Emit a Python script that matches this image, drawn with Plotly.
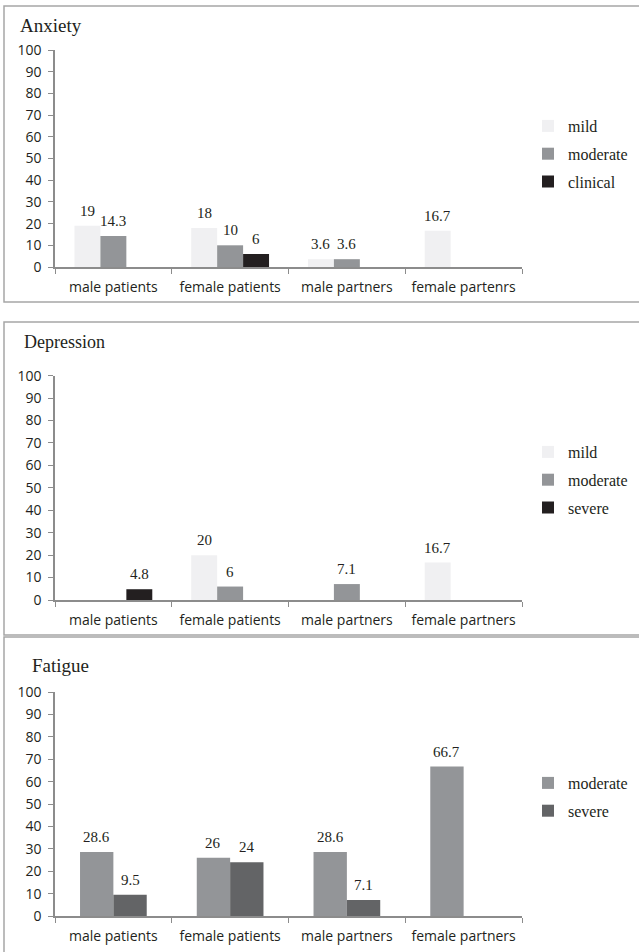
import plotly.graph_objects as go

# ---------------- data ----------------
cats_anx = ["male patients", "female patients", "male partners", "female partenrs"]
cats_dep = ["male patients", "female patients", "male partners", "female partners"]
cats_fat = ["male patients", "female patients", "male partners", "female partners"]

anx_mild = [19, 18, 3.6, 16.7]
anx_moderate = [14.3, 10, 3.6, None]
anx_clinical = [None, 6, None, None]

dep_mild = [None, 20, None, 16.7]
dep_moderate = [None, 6, 7.1, None]
dep_severe = [4.8, None, None, None]

fat_moderate = [28.6, 26, 28.6, 66.7]
fat_severe = [9.5, 24, 7.1, None]

titles = ["Anxiety", "Depression", "Fatigue"]

# ---------------- styling ----------------
W, H = 639, 952
C_MILD = "#F0F0F2"
C_MOD = "#939598"
C_BLACK = "#231F20"
C_SEV2 = "#636466"
AXIS = "#8C8C8C"
SERIF = "Liberation Serif"
SANS = "Open Sans"
X0, X1 = 55, 522


def px_x(p):
    return p / W


def px_y(p):
    return 1 - p / H


fig = go.Figure()

panels = [
    dict(cats=cats_anx, series=[("mild", anx_mild, C_MILD), ("moderate", anx_moderate, C_MOD), ("clinical", anx_clinical, C_BLACK)],
         ytop=50, ybot=267, legend="legend", leg_y=109, title_y=25, title_x=18, title_size=19),
    dict(cats=cats_dep, series=[("mild", dep_mild, C_MILD), ("moderate", dep_moderate, C_MOD), ("severe", dep_severe, C_BLACK)],
         ytop=375.7, ybot=600, legend="legend2", leg_y=435, title_y=342, title_x=22, title_size=18),
    dict(cats=cats_fat, series=[("moderate", fat_moderate, C_MOD), ("severe", fat_severe, C_SEV2)],
         ytop=692, ybot=916, legend="legend3", leg_y=766, title_y=665, title_x=30, title_size=19),
]

layout_updates = {}
annotations = []
cat_px = (X1 - X0) / 4.0
for i, p in enumerate(panels):
    idx = "" if i == 0 else str(i + 1)
    xa, ya = "x" + idx, "y" + idx
    n = len(p["series"])
    gap = 1.5 / (n + 1.5)          # Excel-style 150% gap width
    bw = (1 - gap) / n
    for j, (name, vals, col) in enumerate(p["series"]):
        off = -(1 - gap) / 2 + j * bw
        fig.add_trace(go.Bar(
            x=p["cats"], y=vals, name=name, xaxis=xa, yaxis=ya,
            width=bw, offset=off,
            marker=dict(color=col, line=dict(width=0)),
            legend=p["legend"], legendgroup=f"{i}-{name}",
            showlegend=True, hoverinfo="x+y+name",
        ))
        # value labels above bars, anchored in data coordinates
        for c, v in zip(p["cats"], vals):
            if v is None:
                continue
            annotations.append(dict(
                x=c, y=v, xref=xa, yref=ya, text=f"{v:g}", showarrow=False,
                xanchor="center", yanchor="bottom",
                xshift=(off + bw / 2) * cat_px, yshift=5,
                font=dict(family=SERIF, size=15, color="#231F20"),
            ))
    layout_updates["xaxis" + idx] = dict(
        domain=[px_x(X0), px_x(X1)], anchor=ya, automargin=False,
        showline=True, linecolor=AXIS, linewidth=1.5,
        ticks="outside", tickson="boundaries", ticklen=5, tickcolor=AXIS,
        tickfont=dict(family=SANS, size=14, color="#231F20"),
        ticklabelstandoff=6, showgrid=False, zeroline=False,
        categoryorder="array", categoryarray=p["cats"], range=[-0.5, 3.5],
    )
    layout_updates["yaxis" + idx] = dict(
        domain=[px_y(p["ybot"]), px_y(p["ytop"])], anchor=xa, automargin=False,
        range=[0, 100], dtick=10, tick0=0,
        showline=True, linecolor=AXIS, linewidth=1.5,
        ticks="outside", ticklen=5, tickcolor=AXIS,
        tickfont=dict(family=SANS, size=14, color="#231F20"),
        ticklabelstandoff=4, showgrid=False, zeroline=False,
    )
    layout_updates[p["legend"]] = dict(
        x=px_x(528), y=px_y(p["leg_y"]), xanchor="left", yanchor="top",
        xref="paper", yref="paper",
        font=dict(family=SERIF, size=16, color="#231F20"),
        tracegroupgap=4, bgcolor="rgba(0,0,0,0)", traceorder="grouped",
    )

fig.update_layout(**layout_updates)

for p, t in zip(panels, titles):
    annotations.append(dict(
        text=t, x=px_x(p["title_x"]), y=px_y(p["title_y"]), xref="paper", yref="paper",
        xanchor="left", yanchor="middle", showarrow=False,
        font=dict(family=SERIF, size=p["title_size"], color="#231F20"),
    ))

shapes = []
for (y0, y1) in [(6, 302), (322, 635), (637, 960)]:
    shapes.append(dict(
        type="rect", xref="paper", yref="paper",
        x0=px_x(4), x1=px_x(645), y0=px_y(y1), y1=px_y(y0),
        line=dict(color="#A6A6A6", width=1.5), fillcolor="rgba(0,0,0,0)",
    ))

fig.update_layout(
    width=W, height=H,
    margin=dict(l=0, r=0, t=0, b=0, pad=0, autoexpand=False),
    paper_bgcolor="white", plot_bgcolor="white",
    barmode="overlay",
    annotations=annotations, shapes=shapes,
    showlegend=True,
)

post = (
    "var d=document.getElementById('{plot_id}');"
    "d.style.position='fixed';d.style.left='0px';d.style.top='0px';"
    "document.documentElement.style.margin='0';document.documentElement.style.padding='0';"
    "document.documentElement.style.overflow='hidden';"
    "document.body.style.margin='0';document.body.style.padding='0';"
    "document.body.style.height='952px';document.body.style.overflow='hidden';"
)

fig.write_html("out.html", config={"displayModeBar": False}, post_script=post)
